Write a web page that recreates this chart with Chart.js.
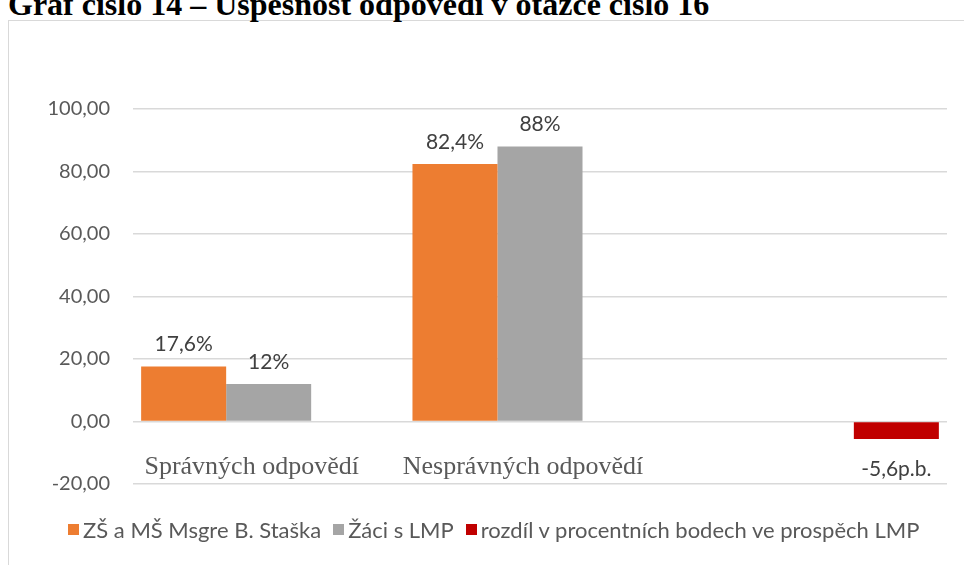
<!DOCTYPE html>
<html>
<head>
<meta charset="utf-8">
<script src="https://cdn.jsdelivr.net/npm/chart.js@4"></script>
<style>
  body { margin: 0; background: #fff; width: 964px; height: 565px; overflow: hidden; position: relative; }
  #frame { position: absolute; left: 8px; top: 20px; width: 1200px; height: 800px; border: 1px solid #d9d9d9; }
  #title { position: absolute; left: 8px; top: -14px; font: bold 32px "Liberation Serif", serif; color: #000; white-space: nowrap; }
  #chart { position: absolute; left: 0; top: 0; }
  #legend { position: absolute; left: 68px; top: 516px; display: flex; align-items: center; font: 22px Lato, sans-serif; color: #595959; white-space: nowrap; }
  #legend span.box { display: inline-block; width: 11px; height: 11px; margin-right: 4px; }
  #legend span.item { margin-right: 12px; display: flex; align-items: center; }
</style>
</head>
<body>
<div id="frame"></div>
<div id="title">Graf číslo 14 – Úspěšnost odpovědí v otázce číslo 16</div>
<canvas id="chart" width="964" height="565"></canvas>
<div id="legend"></div>
<script>
const categories = ['Správných odpovědí', 'Nesprávných odpovědí', ''];
const seriesNames = ['ZŠ a MŠ Msgre B. Staška', 'Žáci s LMP', 'rozdíl v procentních bodech ve prospěch LMP'];
const schoolValues = [17.6, 82.4, null];
const lmpValues = [12, 88, null];
const diffValues = [null, null, -5.6];
const labelSuffixes = ['%', '%', 'p.b.'];
const seriesColors = ['#ed7d31', '#a5a5a5', '#c00000'];
const yTicks = [-20, 0, 20, 40, 60, 80, 100];

// data labels above / below the bars
const valueLabels = {
    id: 'valueLabels',
    afterDatasetsDraw(chart) {
        const ctx = chart.ctx;
        ctx.save();
        ctx.font = '21px Lato, sans-serif';
        ctx.fillStyle = '#404040';
        ctx.textAlign = 'center';
        ctx.textBaseline = 'middle';
        chart.data.datasets.forEach((ds, di) => {
            const meta = chart.getDatasetMeta(di);
            meta.data.forEach((bar, i) => {
                const v = ds.data[i];
                if (v === null) return;
                const text = String(v).replace('.', ',') + labelSuffixes[di];
                const y = v >= 0 ? bar.y - 22 : bar.y + 30;
                ctx.fillText(text, bar.x, y);
            });
        });
        ctx.restore();
    }
};

// category names sit just under the zero line
const categoryLabels = {
    id: 'categoryLabels',
    afterDraw(chart) {
        const ctx = chart.ctx;
        const x = chart.scales.x;
        const y0 = chart.scales.y.getPixelForValue(0);
        ctx.save();
        ctx.font = '26px "Liberation Serif", serif';
        ctx.fillStyle = '#595959';
        ctx.textAlign = 'center';
        ctx.textBaseline = 'middle';
        categories.forEach((c, i) => {
            ctx.fillText(c, x.getPixelForValue(i) - 17, y0 + 46);
        });
        ctx.restore();
    }
};

const chart = new Chart(document.getElementById('chart'), {
    type: 'bar',
    data: {
        labels: categories,
        datasets: [
            { label: seriesNames[0], data: schoolValues, backgroundColor: seriesColors[0] },
            { label: seriesNames[1], data: lmpValues, backgroundColor: seriesColors[1] },
            { label: seriesNames[2], data: diffValues, backgroundColor: seriesColors[2] }
        ]
    },
    options: {
        responsive: false,
        animation: false,
        barPercentage: 1,
        categoryPercentage: 0.94,
        layout: { padding: { top: 109, bottom: 81, right: 17, left: 0 } },
        scales: {
            x: { display: false },
            y: {
                min: -20,
                max: 100,
                afterFit: (axis) => { axis.width = 133; },
                afterBuildTicks: (axis) => { axis.ticks = yTicks.map(v => ({ value: v })); },
                border: { display: false },
                grid: { color: '#d9d9d9', lineWidth: 1.5, drawTicks: false },
                ticks: {
                    padding: 23,
                    color: '#595959',
                    font: { family: 'Lato', size: 20 },
                    callback: (v) => v.toFixed(2).replace('.', ',')
                }
            }
        },
        plugins: {
            legend: { display: false },
            tooltip: { enabled: false }
        }
    },
    plugins: [valueLabels, categoryLabels]
});

// legend below the chart
const legendEl = document.getElementById('legend');
seriesNames.forEach((name, i) => {
    const item = document.createElement('span');
    item.className = 'item';
    item.innerHTML = `<span class="box" style="background:${seriesColors[i]}"></span>${name}`;
    legendEl.appendChild(item);
});
</script>
</body>
</html>
